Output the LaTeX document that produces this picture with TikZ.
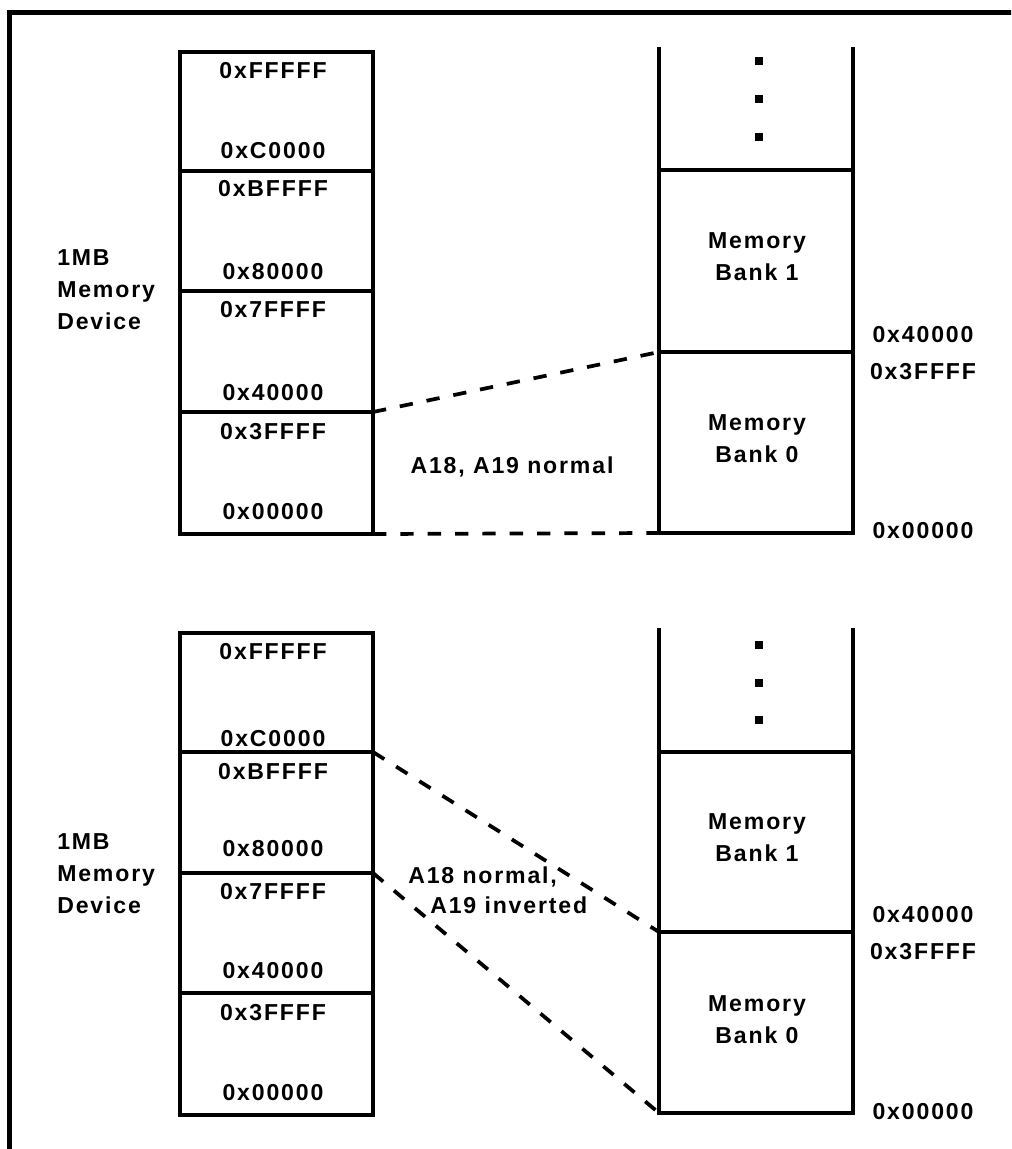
\documentclass[tikz,border=0pt]{standalone}
\usepackage{fontspec}
\setmainfont[LetterSpace=8]{Liberation Sans}
\usetikzlibrary{fit}
\tikzset{
  x=0.75pt, y=-0.75pt,
  seg/.style={draw, line width=3pt, inner sep=0pt, outer sep=0pt},
  wall/.style={line width=3pt},
  frame/.style={line width=3.75pt, line join=miter},
  link/.style={line width=2.8pt, dash pattern=on 10pt off 10.5pt},
  lbl/.style={font=\fontsize{17.3}{24}\selectfont\bfseries, inner sep=0pt},
  two/.style={lbl, align=center},
  dotsq/.style={rectangle, fill=black, inner sep=0pt, minimum size=6.5pt}
}
\begin{document}
\begin{tikzpicture}
\useasboundingbox (0,0) rectangle (1011,1149);
\clip (0,0) rectangle (1011,1149);
% outer frame (only top and left edges are visible)
\coordinate (fbl) at (9.5,1165);
\coordinate (ftl) at (9.5,12.5);
\coordinate (ftr) at (1025,12.5);
\draw[frame] (fbl) -- (ftl) -- (ftr);

% ===================== TOP HALF =====================
\node[seg, fit={(179.5,52) (373,170.5)}] (t1) {};
\node[seg, fit={(179.5,170.5) (373,291)}] (t2) {};
\node[seg, fit={(179.5,291) (373,412)}] (t3) {};
\node[seg, fit={(179.5,412) (373,534)}] (t4) {};

\node[lbl] (t1a) at (273,71) {0xFFFFF};
\node[lbl] (t1b) at (273,151) {0xC0000};
\node[lbl] (t2a) at (273,189) {0xBFFFF};
\node[lbl] (t2b) at (273,272) {0x80000};
\node[lbl] (t3a) at (273,310) {0x7FFFF};
\node[lbl] (t3b) at (273,393) {0x40000};
\node[lbl] (t4a) at (273,432) {0x3FFFF};
\node[lbl] (t4b) at (273,512) {0x00000};

\node[lbl, align=left, anchor=north west] (tdev) at (57,249) {1MB\\Memory\\Device};

% right column
\node[seg, fit={(659,169.5) (853,352)}] (tr1) {};
\node[seg, fit={(659,352) (853,533)}] (tr0) {};
\coordinate (trl) at (659,47);
\coordinate (trr) at (853,47);
\draw[wall] (trl) -- (tr1.north west);
\draw[wall] (trr) -- (tr1.north east);
\node[dotsq] (td1) at (759,61) {};
\node[dotsq] (td2) at (759,99) {};
\node[dotsq] (td3) at (759,137) {};

\node[two] (tr1l) at (757,256.5) {Memory\\Bank 1};
\node[two] (tr0l) at (757,439) {Memory\\Bank 0};

\node[lbl] (tra) at (923,335) {0x40000};
\node[lbl] (trb) at (923,372) {0x3FFFF};
\node[lbl] (trc) at (923,531) {0x00000};

\draw[link] (t4.north east) -- (tr0.north west);
\draw[link] (t4.south east) -- (tr0.south west);

\node[lbl] (tnote) at (512,467) {A18, A19 normal};

% ===================== BOTTOM HALF =====================
\node[seg, fit={(179.5,633) (373,752)}] (b1) {};
\node[seg, fit={(179.5,752) (373,873)}] (b2) {};
\node[seg, fit={(179.5,873) (373,993)}] (b3) {};
\node[seg, fit={(179.5,993) (373,1115)}] (b4) {};

\node[lbl] (b1a) at (273,652) {0xFFFFF};
\node[lbl] (b1b) at (273,739) {0xC0000};
\node[lbl] (b2a) at (273,772) {0xBFFFF};
\node[lbl] (b2b) at (273,849) {0x80000};
\node[lbl] (b3a) at (273,892) {0x7FFFF};
\node[lbl] (b3b) at (273,971) {0x40000};
\node[lbl] (b4a) at (273,1013) {0x3FFFF};
\node[lbl] (b4b) at (273,1093) {0x00000};

\node[lbl, align=left, anchor=north west] (bdev) at (57,833) {1MB\\Memory\\Device};

% right column
\node[seg, fit={(659,752) (853,932)}] (br1) {};
\node[seg, fit={(659,932) (853,1113)}] (br0) {};
\coordinate (brl) at (659,628);
\coordinate (brr) at (853,628);
\draw[wall] (brl) -- (br1.north west);
\draw[wall] (brr) -- (br1.north east);
\node[dotsq] (bd1) at (759,645) {};
\node[dotsq] (bd2) at (759,683) {};
\node[dotsq] (bd3) at (759,720) {};

\node[two] (br1l) at (757,838) {Memory\\Bank 1};
\node[two] (br0l) at (757,1020) {Memory\\Bank 0};

\node[lbl] (bra) at (923,915) {0x40000};
\node[lbl] (brb) at (923,952) {0x3FFFF};
\node[lbl] (brc) at (923,1112) {0x00000};

\draw[link] (b2.north east) -- (br1.south west);
\draw[link] (b3.north east) -- (br0.south west);

\node[lbl, font=\fontsize{17.3}{22}\selectfont\bfseries, align=left, anchor=north west] (bnote) at (408,867) {A18 normal,\\\hspace*{16.5pt}A19 inverted};
\end{tikzpicture}
\end{document}
